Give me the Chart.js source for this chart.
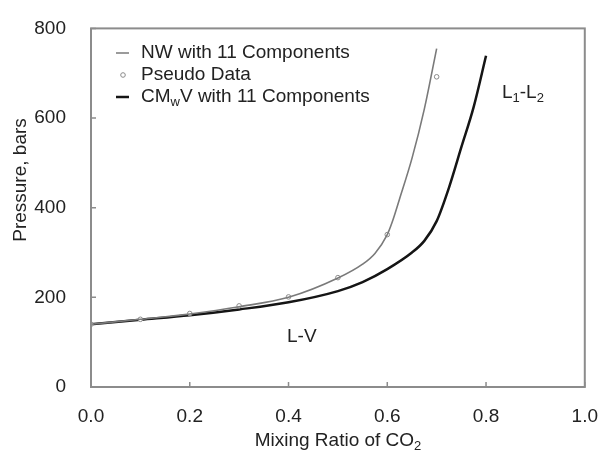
<!DOCTYPE html>
<html>
<head>
<meta charset="utf-8">
<script src="https://cdn.jsdelivr.net/npm/chart.js@4"></script>
<style>
  html, body { margin: 0; padding: 0; background: #fff; }
</style>
</head>
<body>
<canvas id="phaseChart" width="608" height="454"></canvas>
<script>
// values
var nwX = [0, 0.1, 0.2, 0.3, 0.4, 0.5, 0.55, 0.575, 0.6, 0.61, 0.625, 0.65, 0.675, 0.70];
var nwP = [140, 151, 163, 179, 200, 243, 274, 298, 340, 368, 420, 510, 620, 755];
var pseudoX = [0, 0.1, 0.2, 0.3, 0.4, 0.5, 0.6, 0.7];
var pseudoP = [140, 151, 164, 181, 201, 244, 340, 692];
var cmX = [0, 0.1, 0.2, 0.3, 0.4, 0.5, 0.55, 0.6, 0.65, 0.675, 0.70, 0.725, 0.75, 0.775, 0.80];
var cmP = [140, 150, 160, 173, 189, 214, 234, 263, 300, 326, 370, 445, 535, 625, 739];

function pairs(xs, ys) {
    return xs.map(function(x, i) { return { x: x, y: ys[i] }; });
}

var FONT = '19px "Liberation Sans", Arial, sans-serif';
var SMALL = '13px "Liberation Sans", Arial, sans-serif';
var TEXT = '#222';
var FRAME = '#8c8c8c';

// draws text pieces in a row, some of them as subscripts
function drawRich(ctx, parts, x, y) {
    parts.forEach(function(p) {
        ctx.font = p.sub ? SMALL : FONT;
        ctx.fillText(p.t, x, p.sub ? y + 5 : y);
        x += ctx.measureText(p.t).width;
    });
}

var decorations = {
    id: 'decorations',
    afterDraw: function(chart) {
        var ctx = chart.ctx;
        var a = chart.chartArea;
        var xs = chart.scales.x, ys = chart.scales.y;
        ctx.save();

        // frame
        ctx.strokeStyle = FRAME;
        ctx.lineWidth = 2;
        ctx.strokeRect(a.left, a.top, a.right - a.left, a.bottom - a.top);

        // inward tick marks
        ctx.lineWidth = 1.5;
        ctx.beginPath();
        xs.ticks.forEach(function(t) {
            var px = xs.getPixelForValue(t.value);
            ctx.moveTo(px, a.bottom);
            ctx.lineTo(px, a.bottom - 5);
        });
        ys.ticks.forEach(function(t) {
            var py = ys.getPixelForValue(t.value);
            ctx.moveTo(a.left, py);
            ctx.lineTo(a.left + 5, py);
        });
        ctx.stroke();

        ctx.fillStyle = TEXT;
        ctx.textBaseline = 'middle';

        // axis titles
        ctx.font = FONT;
        ctx.textAlign = 'left';
        var xt = 'Mixing Ratio of CO';
        var w = ctx.measureText(xt).width + 7;
        drawRich(ctx, [{ t: xt }, { t: '2', sub: true }], (a.left + a.right) / 2 - w / 2, 441);

        ctx.save();
        ctx.translate(21, 180);
        ctx.rotate(-Math.PI / 2);
        ctx.textAlign = 'center';
        ctx.font = FONT;
        ctx.fillText('Pressure, bars', 0, 0);
        ctx.restore();

        // legend
        ctx.textAlign = 'left';
        ctx.strokeStyle = '#7a7a7a';
        ctx.lineWidth = 1.5;
        ctx.beginPath(); ctx.moveTo(116, 53); ctx.lineTo(129, 53); ctx.stroke();
        ctx.font = FONT;
        ctx.fillText('NW with 11 Components', 141, 53);

        ctx.strokeStyle = '#8a8a8a';
        ctx.lineWidth = 1;
        ctx.beginPath(); ctx.arc(123, 75, 2.3, 0, Math.PI * 2); ctx.stroke();
        ctx.fillText('Pseudo Data', 141, 75);

        ctx.strokeStyle = '#151515';
        ctx.lineWidth = 2.5;
        ctx.beginPath(); ctx.moveTo(116, 97); ctx.lineTo(129, 97); ctx.stroke();
        drawRich(ctx, [{ t: 'CM' }, { t: 'w', sub: true }, { t: 'V with 11 Components' }], 141, 97);

        // region labels
        ctx.font = FONT;
        ctx.fillText('L-V', 287, 337);
        drawRich(ctx, [{ t: 'L' }, { t: '1', sub: true }, { t: '-L' }, { t: '2', sub: true }], 502, 93);

        ctx.restore();
    }
};

var ctx = document.getElementById('phaseChart').getContext('2d');
var phaseChart = new Chart(ctx, {
    type: 'scatter',
    data: {
        datasets: [{
            label: 'NW with 11 Components',
            data: pairs(nwX, nwP),
            showLine: true,
            borderColor: '#7a7a7a',
            borderWidth: 1.6,
            pointRadius: 0,
            cubicInterpolationMode: 'monotone'
        }, {
            label: 'Pseudo Data',
            data: pairs(pseudoX, pseudoP),
            showLine: false,
            pointStyle: 'circle',
            pointRadius: 2.3,
            borderWidth: 1,
            borderColor: '#8a8a8a',
            backgroundColor: '#ffffff'
        }, {
            label: 'CMwV with 11 Components',
            data: pairs(cmX, cmP),
            showLine: true,
            borderColor: '#151515',
            borderWidth: 2.5,
            pointRadius: 0,
            cubicInterpolationMode: 'monotone'
        }]
    },
    options: {
        responsive: false,
        animation: false,
        layout: { padding: { left: 0, right: 14, top: 17, bottom: 0 } },
        plugins: { legend: { display: false }, tooltip: { enabled: false } },
        scales: {
            x: {
                type: 'linear',
                min: 0, max: 1,
                grid: { display: false },
                border: { display: false },
                ticks: {
                    stepSize: 0.2,
                    padding: 10,
                    color: TEXT,
                    font: { family: '"Liberation Sans", Arial, sans-serif', size: 19 },
                    maxRotation: 0,
                    callback: function(v) { return v.toFixed(1); }
                },
                afterFit: function(s) { s.height = 67; }
            },
            y: {
                min: 0, max: 800,
                grid: { display: false },
                border: { display: false },
                ticks: {
                    stepSize: 200,
                    padding: 17,
                    color: TEXT,
                    font: { family: '"Liberation Sans", Arial, sans-serif', size: 19 }
                },
                afterFit: function(s) { s.width = 91; }
            }
        }
    },
    plugins: [decorations]
});
</script>
</body>
</html>
